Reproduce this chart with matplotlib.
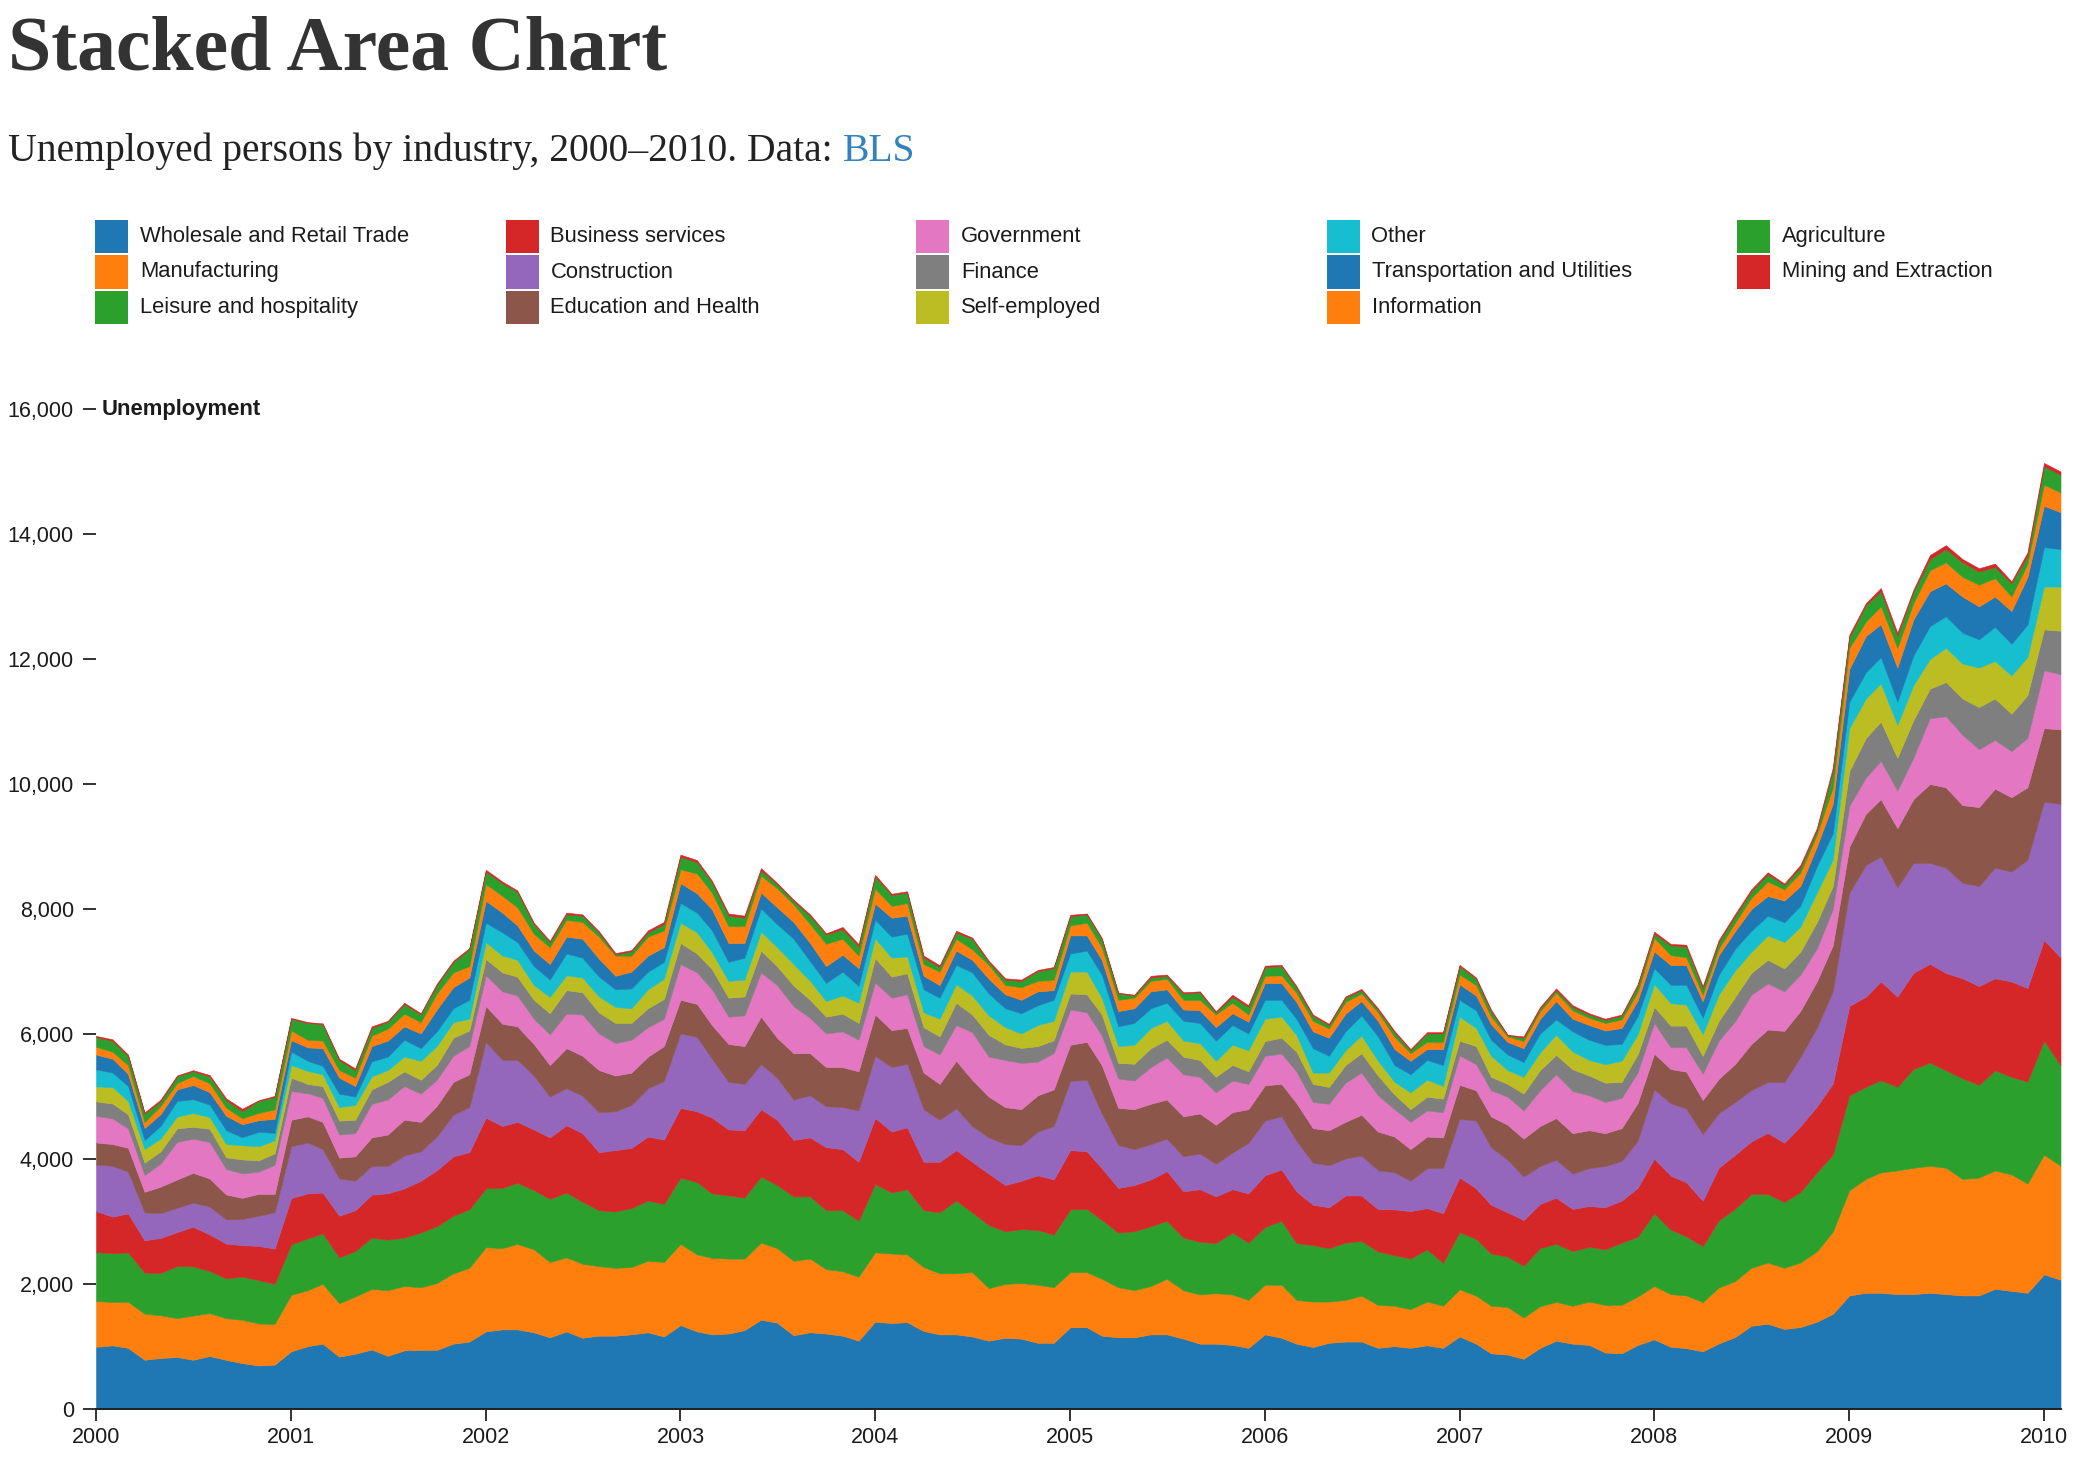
import matplotlib
matplotlib.use("Agg")
import matplotlib.pyplot as plt
import matplotlib.dates as mdates
import pandas as pd
from matplotlib.patches import Rectangle
from matplotlib.ticker import FuncFormatter, MultipleLocator

W, H = 2092, 1468

# ---------------- data (monthly, Jan 2000 .. Feb 2010) ----------------
start_month = "2000-01-01"
n_months = 122
months = pd.date_range(start_month, periods=n_months, freq="MS")

industries = [
    "Wholesale and Retail Trade", "Manufacturing", "Leisure and hospitality",
    "Business services", "Construction", "Education and Health",
    "Government", "Finance", "Self-employed", "Other",
    "Transportation and Utilities", "Information", "Agriculture",
    "Mining and Extraction",
]

wholesale = [1000, 1023, 983, 793, 821, 837, 792, 853, 791, 739, 701, 715,
             929, 1010, 1050, 842, 889, 956, 855, 943, 950, 950, 1050, 1084,
             1246, 1279, 1279, 1232, 1152, 1246, 1145, 1178, 1178, 1199, 1232, 1165,
             1347, 1246, 1199, 1212, 1266, 1434, 1387, 1185, 1232, 1212, 1178, 1098,
             1401, 1380, 1394, 1253, 1199, 1199, 1165, 1098, 1145, 1131, 1064, 1064,
             1313, 1313, 1178, 1152, 1152, 1199, 1199, 1131, 1050, 1050, 1030, 983,
             1199, 1145, 1050, 997, 1064, 1084, 1084, 983, 1010, 983, 1024, 983,
             1165, 1050, 896, 875, 808, 983, 1098, 1050, 1030, 909, 896, 1030,
             1118, 1000, 979, 927, 1053, 1158, 1337, 1369, 1285, 1316, 1401, 1527,
             1822, 1864, 1864, 1843, 1843, 1864, 1843, 1822, 1822, 1927, 1895, 1864,
             2159, 2074]
manufacturing = [734, 694, 739, 736, 685, 621, 708, 685, 667, 693, 672, 653,
                 903, 896, 957, 855, 916, 970, 1051, 1030, 1003, 1070, 1125, 1179,
                 1347, 1300, 1367, 1327, 1205, 1185, 1185, 1112, 1085, 1077, 1145, 1192,
                 1299, 1232, 1225, 1199, 1145, 1233, 1192, 1192, 1179, 1031, 1031, 1023,
                 1111, 1112, 1084, 1023, 976, 976, 1030, 841, 862, 889, 929, 889,
                 882, 882, 910, 801, 754, 774, 889, 775, 788, 808, 808, 768,
                 794, 848, 701, 727, 660, 667, 734, 687, 647, 620, 700, 674,
                 754, 768, 761, 762, 660, 667, 619, 607, 694, 761, 774, 775,
                 855, 843, 843, 789, 895, 895, 927, 979, 979, 1032, 1126, 1316,
                 1684, 1822, 1927, 1979, 2022, 2032, 2022, 1864, 1885, 1895, 1864, 1748,
                 1916, 1822]
leisure = [782, 779, 789, 658, 675, 833, 786, 675, 636, 691, 694, 639,
           808, 828, 808, 734, 727, 821, 808, 774, 875, 909, 923, 936,
           942, 963, 977, 949, 1010, 1037, 990, 895, 902, 943, 963, 929,
           1058, 1158, 1031, 1010, 976, 1057, 1010, 1030, 996, 942, 976, 896,
           1091, 976, 1044, 909, 977, 1165, 957, 1010, 841, 862, 876, 842,
           1004, 1010, 942, 875, 942, 956, 929, 841, 842, 802, 990, 916,
           923, 1024, 909, 902, 855, 916, 876, 855, 808, 808, 835, 686,
           916, 909, 835, 807, 828, 929, 930, 875, 875, 889, 997, 956,
           1165, 1032, 947, 895, 1074, 1159, 1179, 1095, 1053, 1127, 1264, 1232,
           1517, 1474, 1474, 1338, 1579, 1653, 1558, 1611, 1484, 1601, 1559, 1632,
           1822, 1611]
business = [655, 587, 623, 517, 561, 545, 636, 584, 559, 504, 547, 564,
            740, 721, 653, 667, 653, 687, 741, 788, 829, 896, 949, 915,
            1132, 990, 976, 970, 983, 1077, 1098, 929, 983, 963, 1024, 1030,
            1118, 1132, 1212, 1057, 1078, 1077, 1044, 903, 943, 1010, 977, 943,
            1057, 976, 990, 775, 808, 808, 808, 822, 741, 775, 875, 882,
            949, 923, 829, 714, 741, 748, 795, 741, 842, 747, 694, 788,
            828, 821, 828, 647, 653, 754, 727, 680, 734, 761, 660, 795,
            875, 808, 781, 708, 734, 707, 740, 673, 654, 673, 673, 781,
            875, 863, 864, 727, 843, 863, 843, 980, 948, 1053, 1053, 1137,
            1432, 1442, 1580, 1442, 1538, 1580, 1559, 1600, 1580, 1474, 1527, 1495,
            1611, 1727]
construction = [745, 812, 669, 447, 397, 389, 384, 446, 386, 417, 482, 580,
                829, 814, 694, 592, 472, 458, 437, 526, 471, 539, 667, 721,
                1212, 1057, 990, 862, 653, 593, 599, 640, 620, 687, 774, 937,
                1191, 1191, 943, 761, 741, 721, 673, 646, 674, 654, 673, 821,
                997, 1031, 1017, 841, 673, 667, 572, 579, 653, 572, 700, 855,
                1105, 1145, 875, 687, 573, 565, 518, 559, 572, 519, 586, 808,
                875, 849, 808, 673, 674, 592, 640, 620, 592, 485, 640, 721,
                936, 1084, 922, 841, 694, 606, 606, 566, 606, 660, 633, 754,
                1105, 1158, 1179, 1064, 874, 843, 821, 811, 968, 1106, 1263, 1475,
                1811, 2107, 2000, 1749, 1758, 1611, 1684, 1527, 1600, 1769, 1758, 2054,
                2211, 2454]
education = [353, 349, 381, 329, 423, 452, 478, 450, 398, 339, 351, 293,
             424, 418, 437, 337, 390, 458, 505, 572, 471, 491, 525, 525,
             573, 579, 539, 505, 505, 640, 640, 674, 572, 518, 505, 558,
             539, 526, 538, 606, 605, 761, 640, 741, 673, 626, 640, 627,
             660, 592, 572, 586, 573, 761, 741, 653, 593, 573, 580, 586,
             579, 606, 774, 593, 640, 647, 626, 640, 640, 626, 646, 539,
             566, 519, 606, 552, 559, 586, 653, 619, 573, 505, 505, 491,
             546, 485, 492, 559, 606, 640, 667, 647, 606, 526, 525, 604,
             572, 548, 590, 547, 547, 610, 737, 842, 822, 737, 738, 737,
             737, 821, 917, 947, 1022, 1264, 1286, 1243, 1264, 1264, 1190, 1159,
             1180, 1190]
government = [430, 409, 311, 269, 370, 603, 545, 583, 408, 391, 356, 467,
              458, 370, 384, 370, 371, 539, 559, 539, 452, 418, 418, 452,
              491, 519, 492, 404, 491, 552, 660, 585, 519, 525, 471, 438,
              572, 505, 572, 438, 492, 707, 842, 754, 566, 538, 572, 505,
              511, 519, 539, 424, 471, 572, 761, 640, 754, 740, 538, 582,
              565, 471, 472, 471, 458, 586, 674, 673, 586, 519, 506, 404,
              472, 484, 506, 418, 424, 627, 673, 580, 438, 437, 417, 404,
              471, 418, 417, 451, 451, 572, 700, 673, 559, 498, 485, 490,
              492, 348, 390, 421, 611, 685, 790, 737, 632, 579, 526, 579,
              653, 579, 613, 601, 663, 1053, 1136, 1127, 927, 779, 737, 789,
              926, 884]
finance = [228, 240, 226, 197, 195, 216, 190, 213, 187, 224, 180, 184,
           215, 148, 189, 223, 215, 229, 283, 235, 222, 235, 289, 249,
           262, 303, 303, 303, 338, 377, 356, 337, 323, 270, 303, 317,
           337, 303, 324, 303, 303, 350, 303, 330, 289, 270, 283, 269,
           391, 337, 337, 303, 289, 357, 283, 350, 250, 240, 249, 205,
           256, 290, 337, 249, 269, 303, 282, 283, 269, 249, 250, 202,
           235, 256, 316, 290, 269, 282, 310, 316, 235, 203, 222, 216,
           236, 289, 216, 203, 270, 324, 310, 350, 316, 310, 256, 290,
           256, 347, 347, 285, 316, 389, 347, 379, 368, 368, 421, 368,
           558, 632, 629, 526, 600, 473, 548, 579, 674, 664, 600, 685,
           653, 695]
self_employed = [239, 262, 213, 218, 206, 188, 222, 186, 213, 226, 226, 209,
                 202, 209, 188, 215, 236, 209, 189, 236, 303, 303, 249, 188,
                 270, 269, 269, 236, 262, 236, 236, 256, 256, 235, 303, 323,
                 324, 337, 269, 269, 269, 303, 303, 343, 303, 249, 290, 323,
                 316, 303, 269, 236, 283, 296, 303, 310, 275, 231, 337, 310,
                 350, 363, 269, 269, 303, 323, 303, 256, 269, 256, 322, 336,
                 357, 337, 269, 181, 229, 236, 283, 236, 202, 269, 270, 202,
                 384, 290, 337, 221, 269, 283, 323, 283, 249, 296, 337, 320,
                 363, 358, 337, 347, 421, 422, 337, 390, 421, 400, 474, 422,
                 685, 632, 611, 526, 558, 474, 547, 558, 632, 600, 611, 610,
                 685, 706]
other = [274, 232, 240, 145, 200, 250, 220, 200, 220, 130, 230, 120,
         216, 162, 135, 216, 134, 240, 215, 269, 202, 236, 222, 303,
         310, 371, 283, 303, 276, 350, 317, 317, 282, 317, 283, 269,
         316, 316, 350, 303, 351, 370, 370, 405, 317, 289, 383, 269,
         297, 337, 364, 370, 337, 310, 370, 350, 303, 324, 317, 337,
         290, 337, 370, 317, 350, 316, 290, 316, 324, 323, 316, 269,
         303, 269, 256, 391, 270, 303, 323, 390, 269, 289, 316, 336,
         269, 283, 255, 250, 235, 302, 243, 323, 323, 310, 269, 290,
         256, 295, 316, 263, 316, 347, 337, 316, 316, 337, 421, 421,
         421, 421, 421, 369, 474, 527, 506, 494, 452, 547, 506, 520,
         632, 600]
transportation = [236, 223, 192, 191, 190, 183, 228, 198, 231, 207, 186, 224,
                  182, 215, 283, 255, 169, 244, 256, 216, 235, 350, 337, 357,
                  350, 316, 269, 249, 249, 269, 303, 289, 216, 269, 256, 236,
                  317, 310, 337, 303, 235, 256, 270, 269, 289, 270, 270, 283,
                  259, 302, 289, 216, 202, 229, 202, 236, 223, 215, 222, 155,
                  289, 242, 236, 243, 235, 270, 215, 182, 202, 215, 189, 189,
                  269, 269, 270, 269, 289, 283, 229, 249, 256, 216, 175, 256,
                  249, 236, 250, 200, 223, 236, 296, 202, 236, 229, 256, 250,
                  270, 316, 316, 264, 316, 284, 348, 315, 348, 316, 316, 474,
                  526, 579, 526, 548, 579, 558, 526, 579, 527, 484, 526, 760,
                  663, 590]
information = [125, 112, 140, 95, 131, 102, 144, 143, 130, 96, 117, 151,
               155, 121, 121, 122, 134, 169, 189, 202, 182, 256, 236, 182,
               269, 269, 290, 269, 270, 270, 269, 351, 323, 256, 303, 269,
               222, 316, 269, 270, 270, 270, 303, 283, 303, 357, 256, 202,
               239, 189, 202, 188, 215, 189, 168, 222, 148, 202, 168, 168,
               162, 203, 202, 181, 169, 168, 169, 155, 168, 203, 168, 115,
               115, 122, 148, 168, 148, 189, 121, 135, 195, 121, 115, 115,
               155, 168, 121, 90, 114, 121, 135, 135, 115, 121, 135, 140,
               215, 158, 126, 105, 105, 137, 179, 232, 179, 211, 190, 263,
               337, 231, 285, 315, 263, 337, 337, 316, 347, 295, 231, 215,
               337, 316]
agriculture = [154, 173, 152, 135, 73, 109, 77, 110, 124, 113, 192, 196,
               188, 270, 263, 161, 122, 121, 114, 155, 122, 135, 168, 269,
               202, 203, 249, 155, 81, 87, 101, 67, 21, 68, 68, 101,
               202, 182, 169, 168, 134, 87, 67, 54, 135, 148, 154, 149,
               195, 175, 168, 102, 74, 101, 169, 47, 87, 101, 155, 182,
               142, 134, 135, 101, 40, 54, 47, 101, 121, 33, 94, 121,
               141, 148, 87, 81, 54, 67, 54, 47, 75, 47, 134, 134,
               135, 101, 87, 20, 54, 47, 40, 54, 54, 47, 60, 100,
               67, 158, 169, 105, 105, 106, 105, 116, 73, 84, 73, 263,
               169, 264, 242, 190, 179, 179, 211, 232, 211, 179, 211, 126,
               295, 284]
mining = [19, 25, 17, 20, 27, 13, 16, 23, 25, 39, 11, 20,
          14, 13, 13, 20, 27, 27, 13, 20, 20, 20, 20, 20,
          27, 26, 20, 21, 20, 27, 20, 20, 20, 20, 33, 34,
          33, 34, 20, 34, 34, 34, 20, 20, 20, 20, 34, 33,
          27, 20, 20, 33, 27, 27, 20, 20, 21, 20, 20, 20,
          26, 14, 13, 14, 7, 27, 20, 20, 14, 20, 34, 27,
          21, 20, 20, 20, 20, 20, 20, 20, 20, 20, 21, 21,
          20, 20, 27, 6, 20, 21, 27, 27, 20, 20, 20, 21,
          34, 21, 31, 32, 32, 31, 32, 31, 21, 42, 32, 53,
          42, 31, 52, 52, 32, 63, 63, 53, 52, 53, 32, 53,
          52, 52]

series_values = [wholesale, manufacturing, leisure, business, construction,
                 education, government, finance, self_employed, other,
                 transportation, information, agriculture, mining]

y_ticks = [0, 2000, 4000, 6000, 8000, 10000, 12000, 14000, 16000]

colors = ["#1f77b4", "#ff7f0e", "#2ca02c", "#d62728", "#9467bd", "#8c564b",
          "#e377c2", "#7f7f7f", "#bcbd22", "#17becf",
          "#1f77b4", "#ff7f0e", "#2ca02c", "#d62728"]

SANS = ["Liberation Sans", "DejaVu Sans"]
SERIF = ["Liberation Serif", "DejaVu Serif"]
plt.rcParams["font.family"] = SANS
TXT = "#1b1b1b"

fig = plt.figure(figsize=(W / 100, H / 100), dpi=100)
fig.patch.set_facecolor("white")

# axes placement (pixels)
x_left, x_right = 96.0, 2060.5
y_top, y_bottom = 409.3, 1409.3
ax = fig.add_axes([x_left / W, 1 - y_bottom / H,
                   (x_right - x_left) / W, (y_bottom - y_top) / H])

ax.stackplot(months, *series_values, colors=colors,
             edgecolor="face", linewidth=0.4)

ax.set_xlim(months[0], months[-1])
ax.set_ylim(y_ticks[0], y_ticks[-1])

for s in ["left", "top", "right"]:
    ax.spines[s].set_visible(False)
ax.spines["bottom"].set_color("#222222")
ax.spines["bottom"].set_linewidth(1.4)

ax.xaxis.set_major_locator(mdates.YearLocator())
ax.xaxis.set_major_formatter(mdates.DateFormatter("%Y"))
ax.set_yticks(y_ticks)
ax.yaxis.set_major_formatter(FuncFormatter(lambda v, p: f"{int(v):,}"))

ax.tick_params(axis="x", direction="out", length=8.9, width=1.3,
               color="#222222", labelsize=15.5, labelcolor=TXT, pad=4)
ax.tick_params(axis="y", direction="out", length=9.4, width=1.3,
               color="#222222", labelsize=15.5, labelcolor=TXT, pad=6.5)
ax.set_facecolor("white")

# y-axis label
fig.text(101.7 / W, 1 - y_top / H, "Unemployment", fontsize=15.8,
         fontweight="bold", color=TXT, va="center", ha="left", family=SANS)

# title & subtitle
fig.text(8 / W, 1 - 69 / H, "Stacked Area Chart", fontsize=56,
         fontweight="bold", family=SERIF, color="#333333", va="baseline")
sub = fig.text(8 / W, 1 - 161 / H,
               "Unemployed persons by industry, 2000\u20132010. Data:",
               fontsize=28.5, family=SERIF, color="#222222", va="baseline")
renderer = fig.canvas.get_renderer()
bb = sub.get_window_extent(renderer=renderer)
fig.text((bb.x1 + 10) / W, 1 - 161 / H, "BLS", fontsize=28.5,
         family=SERIF, color="#3182bd", va="baseline")

# legend (swatches, 5 columns x 3 rows, column-major order)
sw = 33.0
col_w = 410.5
row_h = 35.5
for i, (name, c) in enumerate(zip(industries, colors)):
    col, row = divmod(i, 3)
    x0 = 95.0 + col * col_w
    top = 220.0 + row * row_h
    fig.add_artist(Rectangle((x0 / W, 1 - (top + sw) / H), sw / W, sw / H,
                             transform=fig.transFigure, facecolor=c,
                             edgecolor="none"))
    fig.text((x0 + 45) / W, 1 - (top + sw / 2) / H, name, fontsize=15.8,
             color=TXT, va="center", ha="left", family=SANS)

fig.savefig("out.png", dpi=100)
